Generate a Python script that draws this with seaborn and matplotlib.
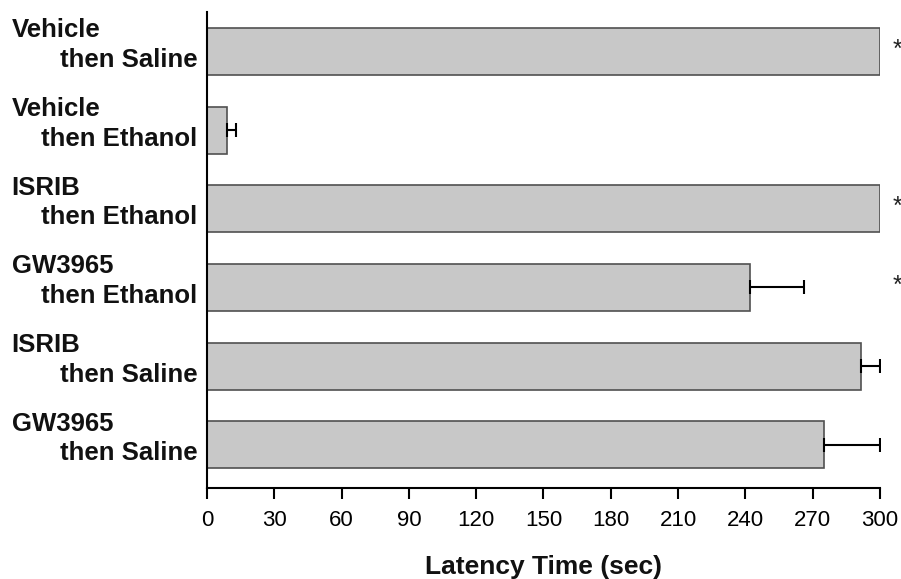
import matplotlib
matplotlib.use("Agg")

import matplotlib.pyplot as plt
import matplotlib.transforms as mtransforms
import numpy as np
import pandas as pd
import seaborn as sns

# treatment groups, top to bottom
pretreatment = ["Vehicle", "Vehicle", "ISRIB", "GW3965", "ISRIB", "GW3965"]
challenge = ["then Saline", "then Ethanol", "then Ethanol", "then Ethanol", "then Saline", "then Saline"]
latency = [300, 9, 300, 242, 291.5, 275]
sem = [0, 4, 0, 24, 8.5, 25]
significant = [True, False, True, True, False, False]
x_ticks = [0, 30, 60, 90, 120, 150, 180, 210, 240, 270, 300]

df = pd.DataFrame({
    "group": [f"{p} {c}" for p, c in zip(pretreatment, challenge)],
    "latency": latency,
    "sem": sem,
})

sns.set_theme(style="ticks")
plt.rcParams["font.family"] = ["Liberation Sans", "DejaVu Sans"]

fig = plt.figure(figsize=(9.01, 5.79), dpi=100)
ax = fig.add_axes([0.2297, 0.157, 0.9767 - 0.2297, 0.979 - 0.157])

sns.barplot(data=df, x="latency", y="group", orient="h", ax=ax,
            color="#c8c8c8", edgecolor="#505050", linewidth=1.2,
            width=0.6, errorbar=None, saturation=1)

pos = np.arange(len(df))
has_err = df["sem"] > 0
ax.errorbar(df["latency"][has_err], pos[has_err],
            xerr=[np.zeros(has_err.sum()), df["sem"][has_err]],
            fmt="none", ecolor="black", elinewidth=1.5, capsize=4.7, capthick=1.5)

# significance stars just outside the plot
for i, sig in enumerate(significant):
    if sig:
        ax.text(308, i - 0.02, "*", ha="center", va="center", fontsize=18,
                color="#222222", clip_on=False)

ax.set_xlim(0, 300)
ax.set_ylim(5.55, -0.5)
ax.set_xticks(x_ticks)
ax.set_xticklabels([str(t) for t in x_ticks],
                   family=["Liberation Sans Narrow", "Liberation Sans"], fontsize=16)
ax.tick_params(axis="x", direction="out", length=8, width=1.5, pad=8, colors="black")
ax.tick_params(axis="y", length=0, pad=0)

# two-line group labels: pretreatment left, challenge right-aligned
ax.set_yticks(pos)
ax.set_yticklabels([])
trans = mtransforms.blended_transform_factory(fig.transFigure, ax.transData)
for i, (p, c) in enumerate(zip(pretreatment, challenge)):
    ax.text(0.013, i - 0.27, p, transform=trans, ha="left", va="center",
            fontsize=18.5, fontweight="bold", color="#111111")
    ax.text(0.219, i + 0.11, c, transform=trans, ha="right", va="center",
            fontsize=18.5, fontweight="bold", color="#111111")

ax.set_ylabel("")
ax.set_xlabel("Latency Time (sec)", fontsize=19, fontweight="bold",
              labelpad=17, color="#111111")

sns.despine(ax=ax)
for side in ["left", "bottom"]:
    ax.spines[side].set_linewidth(1.5)
    ax.spines[side].set_color("black")

fig.savefig("out.png", dpi=100)
